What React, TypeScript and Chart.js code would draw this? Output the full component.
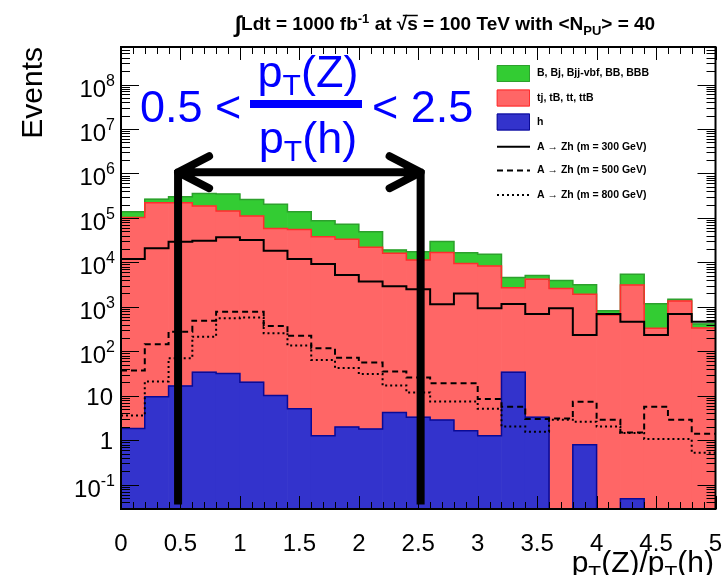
import React, { useEffect, useRef } from 'react';
import { Chart, registerables } from 'chart.js';

Chart.register(...registerables);

// ---------- data ----------
const binLowEdges = [0, 0.2, 0.4, 0.6, 0.8, 1.0, 1.2, 1.4, 1.6, 1.8, 2.0, 2.2, 2.4, 2.6, 2.8, 3.0, 3.2, 3.4, 3.6, 3.8, 4.0, 4.2, 4.4, 4.6, 4.8];
const binWidth = 0.2;

const xTickValues = [0, 0.5, 1, 1.5, 2, 2.5, 3, 3.5, 4, 4.5, 5];
const xTickLabels = ['0', '0.5', '1', '1.5', '2', '2.5', '3', '3.5', '4', '4.5', '5'];
const yTickExponents = [-1, 0, 1, 2, 3, 4, 5, 6, 7, 8];

// h (blue)
const higgs: (number | null)[] = [1.84, 9.5, 16.7, 34, 31.6, 20.2, 10.1, 5.1, 1.26, 1.98, 1.78, 4.2, 3.3, 2.84, 1.63, 1.26, 34, 3.3, null, 0.79, null, 0.048, null, null, null];
// tj, tB, tt, ttB (red)
const topBkg = [103000, 219000, 219000, 185000, 143000, 110000, 58000, 55000, 38000, 33000, 21800, 16000, 11300, 16800, 9500, 8300, 2670, 4200, 2600, 1920, 658, 3100, 330, 1360, 336];
// B, Bj, Bjj-vbf, BB, BBB (green)
const bosonBkg = [34000, 46000, 81000, 171000, 201000, 151000, 144000, 82000, 48000, 39000, 27200, 3000, 6100, 12900, 7000, 6900, 1900, 900, 1300, 1230, 164, 2300, 850, 120, 77];
// signals
const sig300 = [11900, 20700, 29000, 30700, 36600, 31800, 18300, 11900, 9200, 5200, 3700, 2900, 2500, 1140, 2000, 931, 1160, 692, 931, 234, 692, 465, 234, 692, 465];
const sig500 = [37, 144, 277, 490, 781, 781, 372, 225, 117, 72, 56, 35, 25.7, 19.2, 19.2, 8.5, 5.7, 3.0, 3.1, 7.3, 2.9, 1.5, 5.7, 2.9, 1.4];
const sig800 = [3.6, 21, 70, 214, 555, 573, 255, 135, 64, 42, 31, 17, 11.8, 7.4, 7.4, 5.1, 2.04, 1.55, 2.9, 2.6, 2.04, 1.45, 1.06, 1.06, 0.52];

const legendLabels = ['B, Bj, Bjj-vbf, BB, BBB', 'tj, tB, tt, ttB', 'h', 'A \u2192 Zh (m = 300 GeV)', 'A \u2192 Zh (m = 500 GeV)', 'A \u2192 Zh (m = 800 GeV)'];

// cut annotation (x positions of thick lines, y range)
const cutLines = [0.48, 2.52];
const cutYRange = [0.036, 1.2e6];
const arrowY = 1.07e6;

const Y_MIN = 0.0284;
const Y_MAX = 7.0e8;
const X_MIN = 0;
const X_MAX = 5;

// ---------- styles ----------
const GREEN = 'rgb(51,204,51)';
const GREEN_LINE = 'rgb(45,160,45)';
const RED = 'rgb(255,102,102)';
const RED_LINE = 'rgb(255,45,45)';
const BLUE = 'rgb(51,51,204)';
const BLUE_LINE = 'rgb(10,10,150)';
const FONT = "'Liberation Sans', Arial, Helvetica, sans-serif";

function barData(vals: (number | null)[]) {
  return binLowEdges.map((x, i) => ({ x: x + binWidth / 2, y: vals[i] }));
}
function stepData(vals: (number | null)[]) {
  const pts = binLowEdges.map((x, i) => ({ x, y: vals[i] ?? Y_MIN }));
  const last = binLowEdges.length - 1;
  pts.push({ x: binLowEdges[last] + binWidth, y: vals[last] ?? Y_MIN });
  return pts;
}

type Run = { t: string; s: number; dy?: number };
function drawRuns(ctx: CanvasRenderingContext2D, runs: Run[], x: number, y: number, align: 'left' | 'center' | 'right', weight: string) {
  const widths = runs.map((r) => {
    ctx.font = `${weight} ${r.s}px ${FONT}`;
    return ctx.measureText(r.t).width;
  });
  const total = widths.reduce((a, b) => a + b, 0);
  let cx = align === 'left' ? x : align === 'center' ? x - total / 2 : x - total;
  const pos: number[] = [];
  ctx.textAlign = 'left';
  ctx.textBaseline = 'alphabetic';
  runs.forEach((r, i) => {
    ctx.font = `${weight} ${r.s}px ${FONT}`;
    pos.push(cx);
    ctx.fillText(r.t, cx, y + (r.dy || 0));
    cx += widths[i];
  });
  pos.push(cx);
  return pos;
}

const rootPlugin = {
  id: 'rootStyle',
  afterDraw(chart: any) {
    const ctx: CanvasRenderingContext2D = chart.ctx;
    const ca = chart.chartArea;
    const xs = chart.scales.x;
    const ys = chart.scales.y;
    ctx.save();

    // ticks (inside, all four sides)
    ctx.strokeStyle = '#000';
    ctx.lineWidth = 1;
    ctx.beginPath();
    for (let k = 0; k <= 50; k++) {
      const px = Math.round(xs.getPixelForValue(k * 0.1)) + 0.5;
      const len = k % 5 === 0 ? 13 : 7;
      ctx.moveTo(px, ca.bottom);
      ctx.lineTo(px, ca.bottom - len);
      ctx.moveTo(px, ca.top);
      ctx.lineTo(px, ca.top + len);
    }
    for (let e = -2; e <= 8; e++) {
      for (let m = 1; m <= 9; m++) {
        const v = m * Math.pow(10, e);
        if (v < Y_MIN || v > Y_MAX) continue;
        const py = Math.round(ys.getPixelForValue(v)) + 0.5;
        const len = m === 1 ? 18 : 9;
        ctx.moveTo(ca.left, py);
        ctx.lineTo(ca.left + len, py);
        ctx.moveTo(ca.right, py);
        ctx.lineTo(ca.right - len, py);
      }
    }
    ctx.stroke();

    // frame
    ctx.lineWidth = 2;
    ctx.strokeRect(ca.left, ca.top, ca.right - ca.left, ca.bottom - ca.top);

    // tick labels
    ctx.fillStyle = '#000';
    xTickValues.forEach((v, i) => {
      ctx.font = `24px ${FONT}`;
      ctx.textAlign = 'center';
      ctx.textBaseline = 'alphabetic';
      ctx.fillText(xTickLabels[i], xs.getPixelForValue(v), 551);
    });
    yTickExponents.forEach((e) => {
      const py = ys.getPixelForValue(Math.pow(10, e));
      if (e === 0) drawRuns(ctx, [{ t: '1', s: 24 }], 113, py + 9, 'right', '');
      else if (e === 1) drawRuns(ctx, [{ t: '10', s: 24 }], 113, py + 9, 'right', '');
      else drawRuns(ctx, [{ t: '10', s: 24 }, { t: String(e), s: 16, dy: -11 }], 115, py + 12, 'right', '');
    });

    // axis titles
    ctx.save();
    ctx.translate(42, ca.top);
    ctx.rotate(-Math.PI / 2);
    ctx.font = `30px ${FONT}`;
    ctx.textAlign = 'right';
    ctx.textBaseline = 'alphabetic';
    ctx.fillText('Events', 0, 0);
    ctx.restore();
    drawRuns(ctx, [
      { t: 'p', s: 30 }, { t: 'T', s: 21, dy: 8 }, { t: '(Z)/p', s: 30 }, { t: 'T', s: 21, dy: 8 }, { t: '(h)', s: 30 },
    ], 714, 572, 'right', '');

    // title
    const tp = drawRuns(ctx, [
      { t: '\u222B', s: 23, dy: 2 },
      { t: 'Ldt = 1000 fb', s: 19 },
      { t: '-1', s: 13, dy: -7 },
      { t: ' at ', s: 19 },
      { t: '\u221A', s: 19 },
      { t: 's', s: 19 },
      { t: ' = 100 TeV with <N', s: 19 },
      { t: 'PU', s: 13, dy: 5 },
      { t: '> = 40', s: 19 },
    ], 445, 30, 'center', 'bold');
    ctx.lineWidth = 1.5;
    ctx.beginPath();
    ctx.moveTo(tp[4] + 6, 15.5);
    ctx.lineTo(tp[6], 15.5);
    ctx.stroke();

    // cut lines + arrow
    ctx.strokeStyle = '#000';
    ctx.lineWidth = 8;
    ctx.lineCap = 'butt';
    const yTop = ys.getPixelForValue(cutYRange[1]);
    const yBot = ys.getPixelForValue(cutYRange[0]);
    const xl = xs.getPixelForValue(cutLines[0]);
    const xr = xs.getPixelForValue(cutLines[1]);
    ctx.beginPath();
    ctx.moveTo(xl, yTop); ctx.lineTo(xl, yBot);
    ctx.moveTo(xr, yTop); ctx.lineTo(xr, yBot);
    ctx.stroke();
    const ay = ys.getPixelForValue(arrowY);
    ctx.lineCap = 'round';
    ctx.lineJoin = 'round';
    ctx.beginPath();
    ctx.moveTo(xl, ay); ctx.lineTo(xr, ay);
    ctx.moveTo(xl + 31, ay - 16); ctx.lineTo(xl, ay); ctx.lineTo(xl + 31, ay + 16);
    ctx.moveTo(xr - 31, ay - 16); ctx.lineTo(xr, ay); ctx.lineTo(xr - 31, ay + 16);
    ctx.stroke();

    // formula
    ctx.fillStyle = 'rgb(0,0,255)';
    drawRuns(ctx, [{ t: '0.5 <', s: 45 }], 140, 122, 'left', '');
    drawRuns(ctx, [{ t: '< 2.5', s: 45 }], 372, 122, 'left', '');
    ctx.fillRect(250, 100, 112, 8);
    drawRuns(ctx, [{ t: 'p', s: 45 }, { t: 'T', s: 30, dy: 8 }, { t: '(Z)', s: 45 }], 308, 87, 'center', '');
    drawRuns(ctx, [{ t: 'p', s: 45 }, { t: 'T', s: 30, dy: 8 }, { t: '(h)', s: 45 }], 308, 153, 'center', '');

    // legend
    const lx = 497, lw = 33;
    const rows = [73.5, 98, 122, 146.7, 170.5, 195];
    const fills = [[GREEN, GREEN_LINE], [RED, RED_LINE], [BLUE, BLUE_LINE]];
    fills.forEach(([f, l], i) => {
      ctx.fillStyle = f;
      ctx.fillRect(lx, rows[i] - 8.5, lw, 17);
      ctx.strokeStyle = l;
      ctx.lineWidth = 1;
      ctx.strokeRect(lx + 0.5, rows[i] - 8, lw - 1, 16);
    });
    const dashes = [[], [6, 4], [2, 3]];
    ctx.strokeStyle = '#000';
    ctx.lineCap = 'butt';
    dashes.forEach((d, i) => {
      ctx.setLineDash(d);
      ctx.lineWidth = 2;
      ctx.beginPath();
      ctx.moveTo(lx, rows[3 + i]);
      ctx.lineTo(lx + lw, rows[3 + i]);
      ctx.stroke();
    });
    ctx.setLineDash([]);
    ctx.fillStyle = '#000';
    ctx.font = `bold 10.5px ${FONT}`;
    ctx.textAlign = 'left';
    ctx.textBaseline = 'middle';
    legendLabels.forEach((t, i) => ctx.fillText(t, 537, rows[i]));

    ctx.restore();
  },
};

export default function App() {
  const ref = useRef<HTMLCanvasElement>(null);
  useEffect(() => {
    const blueTop = higgs.map((v) => v);
    const redTop = topBkg.map((v, i) => v + (higgs[i] ?? 0));
    const greenTop = bosonBkg.map((v, i) => v + redTop[i]);
    const lineDs = (label: string, vals: (number | null)[], color: string, width: number, dash: number[], order: number) => ({
      type: 'line' as const,
      label,
      data: stepData(vals),
      borderColor: color,
      borderWidth: width,
      borderDash: dash,
      pointRadius: 0,
      fill: false,
      stepped: 'before' as const,
      stack: label,
      order,
    });
    const chart = new Chart(ref.current as HTMLCanvasElement, {
      type: 'bar',
      data: {
        datasets: [
          { type: 'bar', label: 'h', data: barData(higgs), backgroundColor: BLUE, borderWidth: 0, stack: 'bkg', barPercentage: 1, categoryPercentage: 1, order: 0 },
          { type: 'bar', label: 'top', data: barData(topBkg), backgroundColor: RED, borderWidth: 0, stack: 'bkg', barPercentage: 1, categoryPercentage: 1, order: 0 },
          { type: 'bar', label: 'boson', data: barData(bosonBkg), backgroundColor: GREEN, borderWidth: 0, stack: 'bkg', barPercentage: 1, categoryPercentage: 1, order: 0 },
          lineDs('outlineBlue', blueTop, BLUE_LINE, 1.5, [], -1),
          lineDs('outlineRed', redTop, RED_LINE, 1.5, [], -1),
          lineDs('outlineGreen', greenTop, GREEN_LINE, 1.5, [], -1),
          lineDs('m300', sig300, '#000', 2, [], -2),
          lineDs('m500', sig500, '#000', 2, [6, 4], -2),
          lineDs('m800', sig800, '#000', 2, [2, 3], -2),
        ] as any,
      },
      options: {
        responsive: false,
        maintainAspectRatio: false,
        animation: false,
        devicePixelRatio: 1,
        layout: { padding: { top: 47, right: 11.5, left: 0, bottom: 0 } },
        plugins: { legend: { display: false }, title: { display: false }, tooltip: { enabled: false } },
        scales: {
          x: {
            type: 'linear', min: X_MIN, max: X_MAX, offset: false,
            grid: { display: false }, border: { display: false }, ticks: { display: false },
            afterFit: (s: any) => { s.height = 66; },
          },
          y: {
            type: 'logarithmic', min: Y_MIN, max: Y_MAX, stacked: true,
            grid: { display: false }, border: { display: false }, ticks: { display: false },
            afterFit: (s: any) => { s.width = 121; },
          },
        },
      } as any,
      plugins: [rootPlugin],
    });
    return () => chart.destroy();
  }, []);
  return (
    <div style={{ position: 'fixed', left: 0, top: 0, width: 727, height: 575, background: '#fff' }}>
      <canvas ref={ref} width={727} height={575} style={{ display: 'block', width: 727, height: 575 }} />
    </div>
  );
}
